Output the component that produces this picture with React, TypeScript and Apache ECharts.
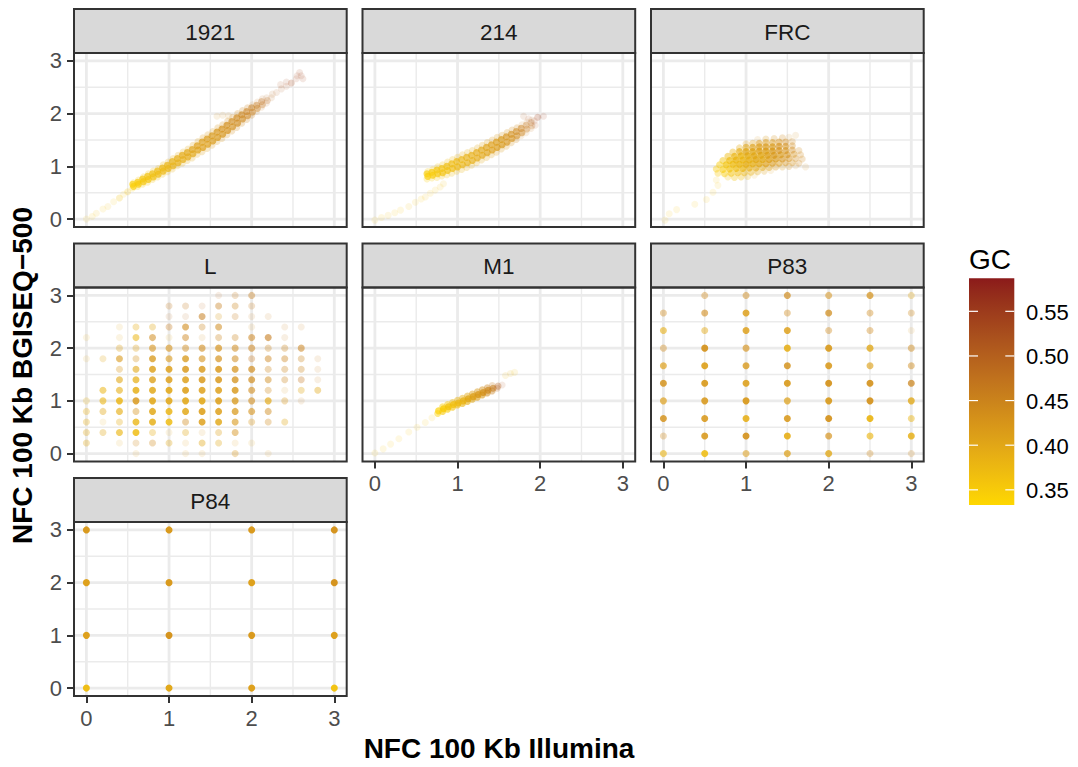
import React, { useEffect, useRef } from "react";
import * as echarts from "echarts";

type Pt = [number, number, number, number]; // x, y, GC, overlapping count

const PANEL_NAMES = ["1921", "214", "FRC", "L", "M1", "P83", "P84"];
const AXIS_TICKS = [0, 1, 2, 3];
const GRID_BREAKS = [0, 0.5, 1, 1.5, 2, 2.5, 3];
const GC_TICKS = [0.35, 0.4, 0.45, 0.5, 0.55];
const GC_TICK_LABELS = ["0.35", "0.40", "0.45", "0.50", "0.55"];
const GC_MIN = 0.333;
const GC_MAX = 0.587;
const X_TITLE = "NFC 100 Kb Illumina";
const Y_TITLE = "NFC 100 Kb BGISEQ\u2212500";
const LEGEND_TITLE = "GC";

const pts1921: Pt[] = [
  [0.0, 0.0, 0.36, 1], [0.07, 0.05, 0.36, 1], [0.12, 0.11, 0.37, 1], [0.2, 0.19, 0.36, 1],
  [0.26, 0.24, 0.37, 1], [0.33, 0.33, 0.36, 1], [0.4, 0.4, 0.36, 2], [0.45, 0.47, 0.36, 1], [0.5, 0.52, 0.36, 2],
  [0.56, 0.59, 0.345, 2], [0.57, 0.62, 0.345, 8], [0.56, 0.66, 0.345, 8], [0.57, 0.69, 0.35, 2],
  [0.62, 0.62, 0.35, 2], [0.63, 0.66, 0.35, 9], [0.62, 0.7, 0.35, 9], [0.63, 0.74, 0.355, 2],
  [0.68, 0.66, 0.355, 2], [0.69, 0.71, 0.355, 9], [0.68, 0.76, 0.355, 9], [0.69, 0.8, 0.36, 2],
  [0.74, 0.7, 0.36, 2], [0.75, 0.75, 0.36, 9], [0.74, 0.81, 0.36, 9], [0.75, 0.86, 0.365, 2],
  [0.8, 0.75, 0.365, 2], [0.81, 0.8, 0.365, 9], [0.8, 0.86, 0.365, 9], [0.81, 0.91, 0.37, 2],
  [0.86, 0.8, 0.37, 2], [0.87, 0.85, 0.37, 9], [0.86, 0.91, 0.37, 9], [0.87, 0.96, 0.375, 2],
  [0.92, 0.85, 0.375, 2], [0.93, 0.91, 0.375, 9], [0.92, 0.97, 0.375, 9], [0.93, 1.03, 0.38, 2],
  [0.98, 0.9, 0.38, 2], [0.99, 0.96, 0.38, 9], [0.98, 1.02, 0.38, 9], [0.99, 1.08, 0.385, 2],
  [1.04, 0.95, 0.385, 2], [1.05, 1.01, 0.385, 9], [1.04, 1.09, 0.385, 9], [1.05, 1.15, 0.39, 2],
  [1.1, 1.01, 0.39, 2], [1.11, 1.07, 0.39, 9], [1.1, 1.15, 0.39, 9], [1.11, 1.21, 0.395, 2],
  [1.16, 1.06, 0.39, 2], [1.17, 1.13, 0.39, 9], [1.16, 1.21, 0.395, 9], [1.17, 1.27, 0.395, 2],
  [1.22, 1.11, 0.395, 2], [1.23, 1.18, 0.395, 9], [1.22, 1.26, 0.4, 9], [1.23, 1.33, 0.4, 2],
  [1.28, 1.16, 0.4, 2], [1.29, 1.24, 0.4, 9], [1.28, 1.32, 0.405, 9], [1.29, 1.4, 0.405, 2],
  [1.34, 1.23, 0.405, 2], [1.35, 1.31, 0.405, 9], [1.34, 1.39, 0.41, 9], [1.35, 1.47, 0.41, 2],
  [1.4, 1.28, 0.41, 2], [1.41, 1.36, 0.41, 9], [1.4, 1.46, 0.41, 9], [1.41, 1.54, 0.415, 2],
  [1.46, 1.34, 0.41, 2], [1.47, 1.42, 0.41, 9], [1.46, 1.52, 0.415, 9], [1.47, 1.6, 0.415, 2],
  [1.52, 1.4, 0.415, 2], [1.53, 1.48, 0.415, 9], [1.52, 1.58, 0.42, 9], [1.53, 1.66, 0.42, 2],
  [1.58, 1.47, 0.42, 2], [1.59, 1.55, 0.42, 9], [1.58, 1.65, 0.425, 9], [1.59, 1.73, 0.425, 2],
  [1.64, 1.53, 0.425, 2], [1.65, 1.61, 0.425, 9], [1.64, 1.71, 0.43, 9], [1.65, 1.79, 0.43, 2],
  [1.7, 1.6, 0.43, 2], [1.71, 1.68, 0.43, 9], [1.7, 1.78, 0.435, 9], [1.71, 1.86, 0.435, 2],
  [1.76, 1.67, 0.435, 2], [1.77, 1.75, 0.435, 8], [1.76, 1.85, 0.44, 8], [1.77, 1.93, 0.44, 2],
  [1.82, 1.74, 0.44, 2], [1.83, 1.82, 0.44, 8], [1.82, 1.92, 0.445, 8], [1.83, 2.0, 0.445, 2],
  [1.88, 1.82, 0.445, 2], [1.89, 1.9, 0.445, 7], [1.88, 1.98, 0.45, 7], [1.89, 2.06, 0.45, 2],
  [1.94, 1.89, 0.45, 2], [1.95, 1.96, 0.45, 6], [1.94, 2.04, 0.455, 6], [1.95, 2.11, 0.455, 2],
  [2.0, 1.97, 0.455, 2], [2.01, 2.03, 0.455, 5], [2.0, 2.11, 0.46, 5], [2.01, 2.17, 0.46, 1],
  [2.06, 2.04, 0.46, 1], [2.07, 2.1, 0.46, 4], [2.06, 2.16, 0.465, 4], [2.07, 2.22, 0.47, 1],
  [2.12, 2.12, 0.47, 1], [2.13, 2.17, 0.47, 3], [2.12, 2.23, 0.475, 3], [2.13, 2.28, 0.48, 1],
  [2.18, 2.2, 0.48, 1], [2.19, 2.25, 0.48, 2], [2.18, 2.3, 0.49, 1],
  [2.24, 2.3, 0.49, 1], [2.25, 2.37, 0.49, 1], [2.3, 2.4, 0.5, 1], [2.36, 2.47, 0.51, 1], [2.35, 2.55, 0.52, 1],
  [2.42, 2.52, 0.52, 1], [2.42, 2.6, 0.53, 1], [2.48, 2.58, 0.53, 2], [2.54, 2.66, 0.54, 1], [2.55, 2.72, 0.53, 1],
  [2.6, 2.72, 0.53, 1], [2.62, 2.66, 0.54, 1], [2.58, 2.78, 0.54, 1],
  [1.58, 1.95, 0.43, 1], [1.65, 1.97, 0.44, 1], [1.72, 1.96, 0.44, 1],
];

const pts214: Pt[] = [
  [0.0, -0.02, 0.36, 1], [0.08, 0.03, 0.36, 1], [0.16, 0.07, 0.37, 1], [0.24, 0.12, 0.36, 1],
  [0.31, 0.17, 0.36, 1], [0.41, 0.24, 0.37, 1], [0.49, 0.32, 0.36, 1], [0.56, 0.38, 0.36, 1],
  [0.61, 0.42, 0.37, 1], [0.67, 0.49, 0.36, 1], [0.73, 0.55, 0.36, 1], [0.79, 0.61, 0.37, 1], [0.83, 0.67, 0.37, 1],
  [0.63, 0.76, 0.345, 2], [0.64, 0.81, 0.345, 8], [0.63, 0.86, 0.345, 8], [0.64, 0.9, 0.35, 2],
  [0.69, 0.78, 0.35, 2], [0.7, 0.83, 0.35, 9], [0.69, 0.89, 0.35, 9], [0.7, 0.94, 0.355, 2],
  [0.75, 0.79, 0.355, 2], [0.76, 0.86, 0.355, 9], [0.75, 0.93, 0.355, 9], [0.76, 0.99, 0.36, 2],
  [0.81, 0.82, 0.36, 2], [0.82, 0.88, 0.36, 9], [0.81, 0.96, 0.36, 9], [0.82, 1.03, 0.365, 2],
  [0.87, 0.84, 0.365, 2], [0.88, 0.92, 0.365, 9], [0.87, 1.0, 0.365, 9], [0.88, 1.08, 0.37, 2],
  [0.93, 0.87, 0.37, 2], [0.94, 0.96, 0.37, 9], [0.93, 1.05, 0.37, 9], [0.94, 1.13, 0.375, 2],
  [0.99, 0.91, 0.375, 2], [1.0, 0.99, 0.375, 9], [0.99, 1.09, 0.375, 9], [1.0, 1.17, 0.38, 2],
  [1.05, 0.94, 0.38, 2], [1.06, 1.03, 0.38, 9], [1.05, 1.13, 0.38, 9], [1.06, 1.22, 0.385, 2],
  [1.11, 0.98, 0.385, 2], [1.12, 1.07, 0.385, 9], [1.11, 1.17, 0.385, 9], [1.12, 1.26, 0.39, 2],
  [1.17, 1.02, 0.39, 2], [1.18, 1.11, 0.39, 9], [1.17, 1.21, 0.39, 9], [1.18, 1.3, 0.395, 2],
  [1.23, 1.07, 0.395, 2], [1.24, 1.16, 0.395, 9], [1.23, 1.26, 0.395, 9], [1.24, 1.35, 0.4, 2],
  [1.29, 1.12, 0.4, 2], [1.3, 1.21, 0.4, 9], [1.29, 1.31, 0.4, 9], [1.3, 1.4, 0.405, 2],
  [1.35, 1.17, 0.405, 2], [1.36, 1.26, 0.405, 9], [1.35, 1.36, 0.405, 9], [1.36, 1.45, 0.41, 2],
  [1.41, 1.22, 0.41, 2], [1.42, 1.31, 0.41, 9], [1.41, 1.41, 0.41, 9], [1.42, 1.5, 0.415, 2],
  [1.47, 1.27, 0.415, 2], [1.48, 1.36, 0.415, 9], [1.47, 1.46, 0.415, 9], [1.48, 1.55, 0.42, 2],
  [1.53, 1.33, 0.42, 2], [1.54, 1.41, 0.42, 9], [1.53, 1.51, 0.42, 9], [1.54, 1.59, 0.425, 2],
  [1.59, 1.38, 0.425, 2], [1.6, 1.46, 0.425, 8], [1.59, 1.56, 0.43, 8], [1.6, 1.64, 0.43, 2],
  [1.65, 1.45, 0.43, 2], [1.66, 1.53, 0.43, 7], [1.65, 1.61, 0.435, 7], [1.66, 1.69, 0.435, 2],
  [1.71, 1.51, 0.44, 2], [1.72, 1.58, 0.44, 6], [1.71, 1.66, 0.445, 6], [1.72, 1.73, 0.445, 2],
  [1.77, 1.58, 0.45, 1], [1.78, 1.64, 0.45, 5], [1.77, 1.72, 0.455, 5], [1.78, 1.79, 0.46, 1],
  [1.83, 1.64, 0.46, 1], [1.84, 1.71, 0.46, 3], [1.83, 1.78, 0.465, 3], [1.84, 1.84, 0.47, 1],
  [1.89, 1.72, 0.47, 1], [1.9, 1.77, 0.475, 2], [1.89, 1.83, 0.48, 2], [1.9, 1.88, 0.49, 1],
  [1.8, 1.95, 0.51, 1], [1.86, 1.9, 0.52, 1], [1.93, 1.86, 0.53, 1], [1.97, 1.93, 0.54, 2],
  [2.04, 1.95, 0.55, 1], [1.94, 1.78, 0.52, 1],
];

const ptsFRC: Pt[] = [
  [0.02, -0.02, 0.36, 1], [0.07, 0.1, 0.36, 1], [0.16, 0.18, 0.36, 1], [0.38, 0.28, 0.36, 1],
  [0.52, 0.37, 0.36, 1], [0.6, 0.51, 0.36, 1], [0.66, 0.64, 0.36, 1], [0.64, 0.74, 0.36, 1],
  [0.78, 0.8, 0.36, 2], [0.86, 0.79, 0.36, 3], [0.94, 0.8, 0.37, 3], [1.02, 0.81, 0.38, 2], [1.1, 0.83, 0.39, 1],
  [0.66, 0.87, 0.35, 3], [0.74, 0.86, 0.35, 5], [0.82, 0.87, 0.36, 6], [0.9, 0.88, 0.37, 6], [0.98, 0.88, 0.38, 5],
  [1.06, 0.89, 0.39, 4], [1.14, 0.9, 0.4, 3], [1.22, 0.91, 0.41, 2], [1.3, 0.92, 0.41, 1],
  [0.64, 0.95, 0.35, 4], [0.72, 0.94, 0.35, 7], [0.8, 0.95, 0.36, 9], [0.88, 0.96, 0.37, 10], [0.96, 0.96, 0.38, 10],
  [1.04, 0.97, 0.39, 9], [1.12, 0.97, 0.4, 7], [1.2, 0.98, 0.4, 5], [1.28, 0.98, 0.41, 4], [1.36, 0.99, 0.42, 3],
  [1.44, 0.99, 0.42, 2], [1.52, 1.0, 0.43, 2], [1.6, 1.01, 0.44, 1], [1.72, 0.99, 0.44, 1],
  [0.68, 1.03, 0.35, 5], [0.76, 1.03, 0.36, 10], [0.84, 1.04, 0.37, 12], [0.92, 1.04, 0.38, 13], [1.0, 1.04, 0.39, 13],
  [1.08, 1.05, 0.39, 12], [1.16, 1.05, 0.4, 11], [1.24, 1.05, 0.41, 9], [1.32, 1.06, 0.42, 7], [1.4, 1.06, 0.42, 5],
  [1.48, 1.07, 0.43, 4], [1.56, 1.07, 0.43, 3], [1.64, 1.06, 0.44, 2],
  [0.72, 1.11, 0.36, 5], [0.8, 1.11, 0.37, 10], [0.88, 1.12, 0.38, 13], [0.96, 1.12, 0.38, 14], [1.04, 1.12, 0.39, 14],
  [1.12, 1.13, 0.4, 14], [1.2, 1.13, 0.4, 13], [1.28, 1.13, 0.41, 11], [1.36, 1.14, 0.42, 9], [1.44, 1.14, 0.43, 7],
  [1.52, 1.15, 0.43, 5], [1.6, 1.15, 0.44, 3], [1.68, 1.14, 0.44, 2],
  [0.78, 1.19, 0.37, 5], [0.86, 1.19, 0.38, 10], [0.94, 1.2, 0.38, 13], [1.02, 1.2, 0.39, 14], [1.1, 1.2, 0.4, 14],
  [1.18, 1.21, 0.4, 14], [1.26, 1.21, 0.41, 13], [1.34, 1.21, 0.42, 11], [1.42, 1.22, 0.42, 9], [1.5, 1.22, 0.43, 7],
  [1.58, 1.23, 0.43, 4], [1.66, 1.22, 0.44, 2],
  [0.84, 1.27, 0.38, 4], [0.92, 1.28, 0.39, 8], [1.0, 1.28, 0.4, 11], [1.08, 1.28, 0.4, 12], [1.16, 1.29, 0.41, 12],
  [1.24, 1.29, 0.41, 12], [1.32, 1.29, 0.42, 11], [1.4, 1.3, 0.43, 9], [1.48, 1.3, 0.43, 7], [1.56, 1.31, 0.44, 4], [1.64, 1.3, 0.44, 2],
  [0.92, 1.35, 0.39, 3], [1.0, 1.36, 0.4, 6], [1.08, 1.36, 0.41, 8], [1.16, 1.37, 0.41, 9], [1.24, 1.37, 0.42, 9],
  [1.32, 1.37, 0.42, 9], [1.4, 1.38, 0.43, 8], [1.48, 1.38, 0.43, 6], [1.56, 1.39, 0.44, 3],
  [1.0, 1.43, 0.41, 2], [1.08, 1.44, 0.41, 3], [1.16, 1.44, 0.42, 5], [1.24, 1.45, 0.42, 5], [1.32, 1.45, 0.42, 5],
  [1.4, 1.46, 0.43, 5], [1.48, 1.46, 0.44, 4], [1.56, 1.47, 0.44, 2],
  [1.14, 1.51, 0.42, 1], [1.24, 1.52, 0.42, 2], [1.34, 1.53, 0.43, 2], [1.44, 1.54, 0.44, 2], [1.52, 1.55, 0.44, 1], [1.6, 1.59, 0.44, 1],
];

const ptsL: Pt[] = [
  [1.6, 3.0, 0.48, 1], [1.8, 3.0, 0.46, 2], [2.0, 3.0, 0.46, 4],
  [1.0, 2.8, 0.47, 2], [1.2, 2.8, 0.47, 2], [1.4, 2.8, 0.48, 1], [1.6, 2.8, 0.46, 4], [1.8, 2.8, 0.45, 3], [2.0, 2.8, 0.46, 2],
  [1.0, 2.6, 0.49, 1], [1.2, 2.6, 0.49, 1], [1.4, 2.6, 0.46, 6], [1.6, 2.6, 0.42, 2], [1.8, 2.6, 0.46, 2], [2.0, 2.6, 0.46, 1], [2.2, 2.6, 0.46, 1],
  [0.4, 2.4, 0.4, 1], [0.6, 2.4, 0.39, 3], [0.8, 2.4, 0.4, 3], [1.0, 2.4, 0.46, 3], [1.2, 2.4, 0.44, 7], [1.4, 2.4, 0.45, 3],
  [1.6, 2.4, 0.44, 6], [2.0, 2.4, 0.44, 1], [2.4, 2.4, 0.46, 1], [2.6, 2.4, 0.46, 1],
  [0.0, 2.2, 0.39, 1], [0.4, 2.2, 0.4, 1], [0.6, 2.2, 0.38, 6], [0.8, 2.2, 0.44, 6], [1.0, 2.2, 0.4, 1], [1.2, 2.2, 0.45, 5],
  [1.4, 2.2, 0.44, 1], [1.6, 2.2, 0.45, 3], [1.8, 2.2, 0.45, 3], [2.0, 2.2, 0.45, 6], [2.2, 2.2, 0.46, 7], [2.4, 2.2, 0.46, 1],
  [0.4, 2.0, 0.41, 3], [0.6, 2.0, 0.41, 3], [0.8, 2.0, 0.43, 7], [1.0, 2.0, 0.43, 7], [1.2, 2.0, 0.44, 5], [1.4, 2.0, 0.44, 7],
  [1.6, 2.0, 0.43, 9], [1.8, 2.0, 0.44, 6], [2.0, 2.0, 0.45, 6], [2.2, 2.0, 0.45, 3], [2.4, 2.0, 0.45, 3], [2.6, 2.0, 0.45, 6],
  [0.0, 1.8, 0.4, 1], [0.2, 1.8, 0.4, 2], [0.4, 1.8, 0.42, 7], [0.6, 1.8, 0.43, 3], [0.8, 1.8, 0.42, 11], [1.0, 1.8, 0.42, 7],
  [1.2, 1.8, 0.42, 11], [1.4, 1.8, 0.43, 7], [1.6, 1.8, 0.43, 9], [1.8, 1.8, 0.44, 6], [2.0, 1.8, 0.47, 3], [2.2, 1.8, 0.45, 5],
  [2.4, 1.8, 0.45, 4], [2.6, 1.8, 0.45, 3], [2.8, 1.8, 0.46, 1],
  [0.4, 1.6, 0.42, 3], [0.6, 1.6, 0.4, 7], [0.8, 1.6, 0.41, 13], [1.0, 1.6, 0.41, 14], [1.2, 1.6, 0.42, 14], [1.4, 1.6, 0.42, 13],
  [1.6, 1.6, 0.42, 14], [1.8, 1.6, 0.43, 10], [2.0, 1.6, 0.44, 9], [2.2, 1.6, 0.45, 3], [2.4, 1.6, 0.45, 3], [2.6, 1.6, 0.45, 3], [2.8, 1.6, 0.46, 1],
  [0.4, 1.4, 0.4, 7], [0.6, 1.4, 0.39, 10], [0.8, 1.4, 0.41, 12], [1.0, 1.4, 0.41, 14], [1.2, 1.4, 0.41, 14], [1.4, 1.4, 0.42, 14],
  [1.6, 1.4, 0.42, 14], [1.8, 1.4, 0.43, 11], [2.0, 1.4, 0.44, 9], [2.2, 1.4, 0.44, 5], [2.4, 1.4, 0.45, 3], [2.6, 1.4, 0.47, 3], [2.8, 1.4, 0.46, 1],
  [0.2, 1.2, 0.38, 6], [0.4, 1.2, 0.39, 7], [0.6, 1.2, 0.39, 14], [0.8, 1.2, 0.4, 14], [1.0, 1.2, 0.4, 16], [1.2, 1.2, 0.41, 16],
  [1.4, 1.2, 0.41, 14], [1.6, 1.2, 0.41, 14], [1.8, 1.2, 0.42, 13], [2.0, 1.2, 0.44, 7], [2.2, 1.2, 0.44, 3], [2.4, 1.2, 0.42, 1],
  [2.6, 1.2, 0.4, 3], [2.8, 1.2, 0.4, 4],
  [0.0, 1.0, 0.39, 2], [0.2, 1.0, 0.38, 7], [0.4, 1.0, 0.38, 14], [0.6, 1.0, 0.42, 14], [0.8, 1.0, 0.4, 16], [1.0, 1.0, 0.4, 16],
  [1.2, 1.0, 0.4, 16], [1.4, 1.0, 0.4, 16], [1.6, 1.0, 0.41, 16], [1.8, 1.0, 0.42, 11], [2.0, 1.0, 0.44, 7], [2.2, 1.0, 0.4, 9],
  [2.4, 1.0, 0.42, 3], [2.6, 1.0, 0.46, 1],
  [0.0, 0.8, 0.39, 3], [0.2, 0.8, 0.4, 4], [0.4, 0.8, 0.39, 8], [0.6, 0.8, 0.43, 4], [0.8, 0.8, 0.4, 14], [1.0, 0.8, 0.38, 14],
  [1.2, 0.8, 0.4, 14], [1.4, 0.8, 0.41, 16], [1.6, 0.8, 0.41, 14], [1.8, 0.8, 0.42, 10], [2.0, 0.8, 0.43, 7], [2.2, 0.8, 0.44, 5],
  [0.0, 0.6, 0.39, 3], [0.2, 0.6, 0.39, 1], [0.4, 0.6, 0.39, 3], [0.6, 0.6, 0.38, 12], [0.8, 0.6, 0.39, 14], [1.0, 0.6, 0.37, 14],
  [1.2, 0.6, 0.44, 4], [1.4, 0.6, 0.41, 14], [1.6, 0.6, 0.4, 13], [1.8, 0.6, 0.42, 7], [2.0, 0.6, 0.42, 3], [2.2, 0.6, 0.44, 3], [2.4, 0.6, 0.4, 3],
  [0.0, 0.4, 0.4, 3], [0.2, 0.4, 0.4, 3], [0.4, 0.4, 0.38, 8], [0.6, 0.4, 0.37, 14], [0.8, 0.4, 0.39, 3], [1.0, 0.4, 0.4, 1],
  [1.2, 0.4, 0.4, 3], [1.4, 0.4, 0.42, 1], [1.6, 0.4, 0.41, 3], [1.8, 0.4, 0.43, 5],
  [0.0, 0.2, 0.4, 3], [0.4, 0.2, 0.4, 1], [0.6, 0.2, 0.44, 2], [0.8, 0.2, 0.44, 3], [1.0, 0.2, 0.4, 3], [1.2, 0.2, 0.41, 1],
  [1.4, 0.2, 0.4, 4], [1.6, 0.2, 0.4, 3], [1.8, 0.2, 0.41, 1], [2.0, 0.2, 0.4, 1],
  [0.6, 0.0, 0.41, 1], [1.2, 0.0, 0.41, 1], [1.4, 0.0, 0.41, 1], [1.8, 0.0, 0.42, 3], [2.2, 0.0, 0.43, 1],
];

const ptsM1: Pt[] = [
  [0.0, 0.01, 0.36, 1], [0.1, 0.09, 0.36, 1], [0.19, 0.18, 0.36, 1], [0.29, 0.28, 0.36, 1],
  [0.41, 0.41, 0.36, 1], [0.51, 0.5, 0.36, 1], [0.61, 0.59, 0.36, 1], [0.69, 0.68, 0.36, 1],
  [0.76, 0.76, 0.34, 5], [0.77, 0.81, 0.34, 9],
  [0.82, 0.8, 0.35, 7], [0.83, 0.85, 0.35, 12], [0.82, 0.89, 0.35, 5],
  [0.88, 0.84, 0.35, 7], [0.89, 0.89, 0.36, 12], [0.88, 0.93, 0.36, 5],
  [0.94, 0.88, 0.36, 7], [0.95, 0.93, 0.36, 12], [0.94, 0.97, 0.37, 5],
  [1.0, 0.92, 0.37, 7], [1.01, 0.96, 0.37, 12], [1.0, 1.01, 0.38, 5],
  [1.06, 0.95, 0.38, 7], [1.07, 1.0, 0.38, 12], [1.06, 1.05, 0.39, 5],
  [1.12, 0.99, 0.39, 7], [1.13, 1.04, 0.4, 12], [1.12, 1.09, 0.4, 5],
  [1.18, 1.03, 0.4, 7], [1.19, 1.08, 0.41, 12], [1.18, 1.13, 0.41, 5],
  [1.24, 1.07, 0.41, 7], [1.25, 1.12, 0.42, 12], [1.24, 1.17, 0.42, 5],
  [1.3, 1.11, 0.42, 7], [1.31, 1.16, 0.43, 11], [1.3, 1.21, 0.43, 5],
  [1.36, 1.15, 0.44, 6], [1.37, 1.2, 0.44, 9], [1.36, 1.25, 0.45, 4],
  [1.42, 1.19, 0.46, 4], [1.43, 1.24, 0.46, 6], [1.42, 1.29, 0.47, 2],
  [1.48, 1.24, 0.49, 2], [1.49, 1.28, 0.5, 3], [1.54, 1.3, 0.52, 1],
  [1.58, 1.48, 0.38, 1], [1.64, 1.52, 0.38, 1], [1.69, 1.54, 0.37, 1],
];

const ptsP83: Pt[] = [
  [0.5, 3, 0.44, 4], [1, 3, 0.44, 5], [1.5, 3, 0.44, 9], [2, 3, 0.43, 6], [2.5, 3, 0.43, 10], [3, 3, 0.4, 3],
  [0, 2.667, 0.44, 4], [0.5, 2.667, 0.44, 7], [1, 2.667, 0.41, 14], [1.5, 2.667, 0.44, 4], [2, 2.667, 0.44, 10], [2.5, 2.667, 0.44, 4], [3, 2.667, 0.44, 3],
  [0, 2.333, 0.39, 7], [0.5, 2.333, 0.4, 5], [1, 2.333, 0.41, 14], [1.5, 2.333, 0.41, 14], [2, 2.333, 0.44, 4], [2.5, 2.333, 0.44, 4], [3, 2.333, 0.42, 1],
  [0, 2, 0.44, 4], [0.5, 2, 0.43, 20], [1, 2, 0.43, 8], [1.5, 2, 0.39, 16], [2, 2, 0.42, 18], [2.5, 2, 0.4, 12], [3, 2, 0.44, 5],
  [0, 1.667, 0.41, 9], [0.5, 1.667, 0.41, 18], [1, 1.667, 0.42, 12], [1.5, 1.667, 0.43, 14], [2, 1.667, 0.42, 16], [2.5, 1.667, 0.41, 8], [3, 1.667, 0.44, 5],
  [0, 1.333, 0.43, 14], [0.5, 1.333, 0.42, 18], [1, 1.333, 0.41, 16], [1.5, 1.333, 0.42, 18], [2, 1.333, 0.43, 20], [2.5, 1.333, 0.43, 18], [3, 1.333, 0.45, 10],
  [0, 1, 0.41, 9], [0.5, 1, 0.42, 16], [1, 1, 0.42, 20], [1.5, 1, 0.41, 10], [2, 1, 0.42, 18], [2.5, 1, 0.43, 20], [3, 1, 0.4, 12],
  [0, 0.667, 0.43, 14], [0.5, 0.667, 0.42, 16], [1, 0.667, 0.39, 16], [1.5, 0.667, 0.42, 16], [2, 0.667, 0.43, 20], [2.5, 0.667, 0.38, 20], [3, 0.667, 0.38, 5],
  [0, 0.333, 0.44, 3], [0.5, 0.333, 0.42, 16], [1, 0.333, 0.43, 18], [1.5, 0.333, 0.39, 18], [2, 0.333, 0.43, 9], [2.5, 0.333, 0.38, 8], [3, 0.333, 0.39, 14],
  [0, 0, 0.38, 7], [0.5, 0, 0.37, 16], [1, 0, 0.41, 6], [1.5, 0, 0.41, 10], [2, 0, 0.4, 12], [2.5, 0, 0.44, 3], [3, 0, 0.44, 2],
];

const ptsP84: Pt[] = [
  [0, 3, 0.42, 30], [1, 3, 0.42, 30], [2, 3, 0.42, 30], [3, 3, 0.43, 30],
  [0, 2, 0.41, 30], [1, 2, 0.42, 30], [2, 2, 0.41, 30], [3, 2, 0.43, 30],
  [0, 1, 0.41, 30], [1, 1, 0.43, 30], [2, 1, 0.42, 30], [3, 1, 0.41, 30],
  [0, 0, 0.37, 30], [1, 0, 0.4, 30], [2, 0, 0.41, 30], [3, 0, 0.36, 30],
];

const PANEL_DATA: Pt[][] = [pts1921, pts214, ptsFRC, ptsL, ptsM1, ptsP83, ptsP84];

// ---- layout / style ----
const FONT = "'Liberation Sans', Arial, Helvetica, sans-serif";
const AX_MIN = -0.15;
const AX_MAX = 3.15;
const COL_LEFT = [74, 362.5, 651];
const PANEL_W = 272.7;
const STRIP_TOP = [9, 243.5, 478];
const STRIP_H = 44;
const PANEL_H = 174;
const ALPHA = 0.12;
const BOTTOM_PANELS = [4, 5, 6];
const BAR = { x: 969, y: 278.3, w: 45.3, h: 226.7 };

// Lab colour interpolation (gold -> firebrick4), like ggplot's gradient
function hexToRgb(h: string) {
  const n = parseInt(h.slice(1), 16);
  return [(n >> 16) & 255, (n >> 8) & 255, n & 255];
}
function toLab(hex: string) {
  const [r, g, b] = hexToRgb(hex).map((c) => {
    const v = c / 255;
    return v <= 0.04045 ? v / 12.92 : Math.pow((v + 0.055) / 1.055, 2.4);
  });
  const X = (0.4124 * r + 0.3576 * g + 0.1805 * b) / 0.95047;
  const Y = 0.2126 * r + 0.7152 * g + 0.0722 * b;
  const Z = (0.0193 * r + 0.1192 * g + 0.9505 * b) / 1.08883;
  const f = (t: number) => (t > 0.008856 ? Math.cbrt(t) : 7.787 * t + 16 / 116);
  const fx = f(X), fy = f(Y), fz = f(Z);
  return [116 * fy - 16, 500 * (fx - fy), 200 * (fy - fz)];
}
function fromLab(L: number, a: number, bb: number) {
  const fy = (L + 16) / 116;
  const fx = fy + a / 500;
  const fz = fy - bb / 200;
  const inv = (t: number) => (t * t * t > 0.008856 ? t * t * t : (t - 16 / 116) / 7.787);
  const X = inv(fx) * 0.95047, Y = inv(fy), Z = inv(fz) * 1.08883;
  const lin = [
    3.2406 * X - 1.5372 * Y - 0.4986 * Z,
    -0.9689 * X + 1.8758 * Y + 0.0415 * Z,
    0.0557 * X - 0.204 * Y + 1.057 * Z,
  ];
  const out = lin.map((c) => {
    const v = c <= 0.0031308 ? 12.92 * c : 1.055 * Math.pow(c, 1 / 2.4) - 0.055;
    return Math.max(0, Math.min(255, Math.round(v * 255)));
  });
  return `rgb(${out[0]},${out[1]},${out[2]})`;
}
const LAB_LOW = toLab("#FFD700");
const LAB_HIGH = toLab("#8B1A1A");
function gcColor(gc: number) {
  const t = Math.max(0, Math.min(1, (gc - GC_MIN) / (GC_MAX - GC_MIN)));
  return fromLab(
    LAB_LOW[0] + (LAB_HIGH[0] - LAB_LOW[0]) * t,
    LAB_LOW[1] + (LAB_HIGH[1] - LAB_LOW[1]) * t,
    LAB_LOW[2] + (LAB_HIGH[2] - LAB_LOW[2]) * t
  );
}

function buildOption() {
  const grids: any[] = [];
  const xAxes: any[] = [];
  const yAxes: any[] = [];
  const series: any[] = [];
  const graphics: any[] = [];

  const gridLines: number[][] = [];
  [0, 1].forEach((major) => {
    GRID_BREAKS.forEach((v) => {
      const isMajor = AXIS_TICKS.indexOf(v) >= 0 ? 1 : 0;
      if (isMajor === major) {
        gridLines.push([v, 0, isMajor]);
        gridLines.push([v, 1, isMajor]);
      }
    });
  });

  PANEL_NAMES.forEach((name, i) => {
    const col = i % 3;
    const row = Math.floor(i / 3);
    const left = COL_LEFT[col];
    const stripTop = STRIP_TOP[row];
    const top = stripTop + STRIP_H;
    const isBottom = BOTTOM_PANELS.indexOf(i) >= 0;
    const isLeft = col === 0;

    grids.push({ left, top, width: PANEL_W, height: PANEL_H, show: false, containLabel: false });
    const tickStyle = { length: 7, lineStyle: { color: "#333333", width: 2 } };
    const labelStyle = { fontSize: 22, color: "#4D4D4D", fontFamily: FONT, margin: 11 };
    xAxes.push({
      type: "value", gridIndex: i, min: AX_MIN, max: AX_MAX,
      axisLine: { show: false, onZero: false },
      splitLine: { show: false },
      axisTick: { show: isBottom, customValues: AXIS_TICKS, ...tickStyle },
      axisLabel: { show: isBottom, customValues: AXIS_TICKS, ...labelStyle },
    });
    yAxes.push({
      type: "value", gridIndex: i, min: AX_MIN, max: AX_MAX,
      axisLine: { show: false, onZero: false },
      splitLine: { show: false },
      axisTick: { show: isLeft, customValues: AXIS_TICKS, ...tickStyle },
      axisLabel: { show: isLeft, customValues: AXIS_TICKS, ...labelStyle, margin: 12 },
    });

    series.push({
      type: "custom",
      coordinateSystem: "cartesian2d",
      xAxisIndex: i,
      yAxisIndex: i,
      silent: true,
      z: 1,
      data: gridLines,
      renderItem: (_p: any, api: any) => {
        const v = api.value(0);
        const dir = api.value(1);
        const major = api.value(2);
        const a = dir === 0 ? api.coord([v, AX_MIN]) : api.coord([AX_MIN, v]);
        const b = dir === 0 ? api.coord([v, AX_MAX]) : api.coord([AX_MAX, v]);
        return {
          type: "line",
          shape: { x1: a[0], y1: a[1], x2: b[0], y2: b[1] },
          style: { stroke: "#EBEBEB", lineWidth: major ? 2.8 : 1.4 },
        };
      },
    });

    series.push({
      type: "scatter",
      xAxisIndex: i,
      yAxisIndex: i,
      silent: true,
      z: 2,
      symbol: "circle",
      symbolSize: 7,
      data: PANEL_DATA[i].map((p) => ({
        value: [p[0], p[1]],
        itemStyle: { color: gcColor(p[2]), opacity: 1 - Math.pow(1 - ALPHA, p[3]), borderWidth: 0 },
      })),
    });

    // strip
    graphics.push({
      type: "rect", z: 100,
      shape: { x: left, y: stripTop, width: PANEL_W, height: STRIP_H },
      style: { fill: "#D9D9D9", stroke: "#333333", lineWidth: 2 },
    });
    graphics.push({
      type: "text", z: 101,
      x: left + PANEL_W / 2, y: stripTop + STRIP_H / 2 + 1,
      style: {
        text: name, fill: "#1A1A1A", fontSize: 22.5, fontFamily: FONT,
        textAlign: "center", textVerticalAlign: "middle", align: "center", verticalAlign: "middle",
      },
    });
    // panel border
    graphics.push({
      type: "rect", z: 100,
      shape: { x: left, y: top, width: PANEL_W, height: PANEL_H },
      style: { fill: "none", stroke: "#333333", lineWidth: 2 },
    });
  });

  // axis titles
  graphics.push({
    type: "text", z: 101, x: 499, y: 748,
    style: {
      text: X_TITLE, fill: "#000000", fontSize: 28, fontWeight: "bold", fontFamily: FONT,
      textAlign: "center", textVerticalAlign: "middle", align: "center", verticalAlign: "middle",
    },
  });
  graphics.push({
    type: "text", z: 101, x: 22, y: 375.5, rotation: Math.PI / 2,
    style: {
      text: Y_TITLE, fill: "#000000", fontSize: 28, fontWeight: "bold", fontFamily: FONT,
      textAlign: "center", textVerticalAlign: "middle", align: "center", verticalAlign: "middle",
    },
  });

  // colour bar legend
  const stops: any[] = [];
  for (let k = 0; k <= 20; k++) {
    stops.push({ offset: k / 20, color: gcColor(GC_MAX - ((GC_MAX - GC_MIN) * k) / 20) });
  }
  graphics.push({
    type: "text", z: 101, x: BAR.x, y: 259,
    style: {
      text: LEGEND_TITLE, fill: "#000000", fontSize: 28, fontFamily: FONT,
      textAlign: "left", textVerticalAlign: "middle", align: "left", verticalAlign: "middle",
    },
  });
  graphics.push({
    type: "rect", z: 100,
    shape: { x: BAR.x, y: BAR.y, width: BAR.w, height: BAR.h },
    style: { fill: new echarts.graphic.LinearGradient(0, 0, 0, 1, stops) },
  });
  GC_TICKS.forEach((v, k) => {
    const y = BAR.y + ((GC_MAX - v) / (GC_MAX - GC_MIN)) * BAR.h;
    graphics.push({
      type: "line", z: 101,
      shape: { x1: BAR.x, y1: y, x2: BAR.x + 9, y2: y },
      style: { stroke: "#FFFFFF", lineWidth: 1.2 },
    });
    graphics.push({
      type: "line", z: 101,
      shape: { x1: BAR.x + BAR.w - 9, y1: y, x2: BAR.x + BAR.w, y2: y },
      style: { stroke: "#FFFFFF", lineWidth: 1.2 },
    });
    graphics.push({
      type: "text", z: 101, x: 1026, y: y + 1,
      style: {
        text: GC_TICK_LABELS[k], fill: "#000000", fontSize: 22, fontFamily: FONT,
        textAlign: "left", textVerticalAlign: "middle", align: "left", verticalAlign: "middle",
      },
    });
  });

  return {
    animation: false,
    backgroundColor: "#FFFFFF",
    textStyle: { fontFamily: FONT },
    grid: grids,
    xAxis: xAxes,
    yAxis: yAxes,
    series,
    graphic: { elements: graphics },
  };
}

export default function App() {
  const ref = useRef<HTMLDivElement>(null);
  useEffect(() => {
    document.body.style.margin = "0";
    if (!ref.current) return;
    const chart = echarts.init(ref.current, undefined, { renderer: "svg" });
    chart.setOption(buildOption() as any);
    return () => chart.dispose();
  }, []);
  return <div ref={ref} style={{ width: 1078, height: 767 }} />;
}
